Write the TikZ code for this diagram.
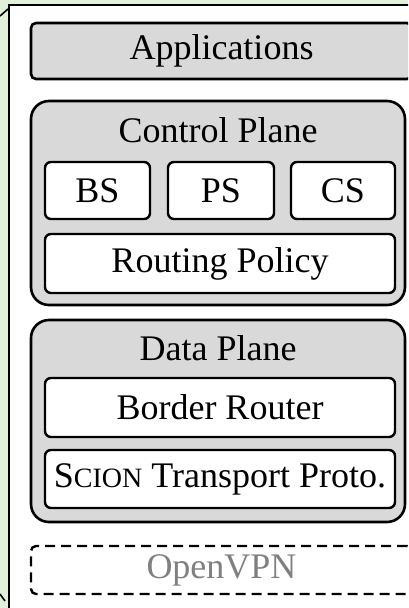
\documentclass[tikz,border=0pt]{standalone}
\usepackage{fontspec}
\setmainfont{Liberation Serif}
\usepackage{tikz}

\definecolor{panelgreen}{RGB}{226,240,217}
\definecolor{layergray}{RGB}{217,217,217}
\definecolor{vpngray}{RGB}{128,128,128}

\newcommand{\scionname}{S{\fontsize{28}{30}\selectfont CION}}

\begin{document}
\begin{tikzpicture}[x=1pt, y=-1pt, font=\fontsize{36}{40}\selectfont,
        layer/.style={draw, line width=2.6pt, fill=layergray, inner sep=0pt, rounded corners=18pt},
        toplayer/.style={draw, line width=2.6pt, fill=layergray, inner sep=0pt, rounded corners=5pt},
        part/.style={draw, line width=2.4pt, fill=white, inner sep=0pt, rounded corners=6pt},
        vpnbox/.style={draw, line width=2.4pt, dash pattern=on 10pt off 6pt, inner sep=0pt, rounded corners=5pt, text=vpngray}]
        \useasboundingbox (0,0) rectangle (408,608);
        \clip (0,0) rectangle (408,608);

        % background and panel
        \fill[panelgreen] (0,0) rectangle (408,608);
        \fill[white] (9,5) rectangle (420,620);
        \draw[line width=2.2pt] (9,620) -- (9,5) -- (420,5);
        \draw[line width=1.6pt] (0,16) -- (8,9);
        \draw[line width=1.6pt] (0,594) -- (5,601);

        % layers
        \draw (221.5,51) node [toplayer, minimum width=381pt, minimum height=56pt] (apps) {Applications};

        \draw (218,203) node [layer, minimum width=374pt, minimum height=204pt] (cp) {};
        \draw (218,130) node (cptitle) {Control Plane};
        \draw (97.5,190.5) node [part, minimum width=105pt, minimum height=57pt] (bs) {BS};
        \draw (221,190.5) node [part, minimum width=106pt, minimum height=57pt] (ps) {PS};
        \draw (343,190.5) node [part, minimum width=104pt, minimum height=57pt] (cs) {CS};
        \draw (220,263.5) node [part, minimum width=350pt, minimum height=59pt] (rp) {Routing Policy};

        \draw (218,421) node [layer, minimum width=374pt, minimum height=202pt] (dp) {};
        \draw (218,348) node (dptitle) {Data Plane};
        \draw (220,407.5) node [part, minimum width=350pt, minimum height=59pt] (br) {Border Router};
        \draw (220,479) node [part, minimum width=350pt, minimum height=58pt] (tp) {\scionname\ Transport Proto.};

        \draw (221.5,570) node [vpnbox, minimum width=381pt, minimum height=48pt] (vpn) {OpenVPN};
    \end{tikzpicture}
\end{document}
